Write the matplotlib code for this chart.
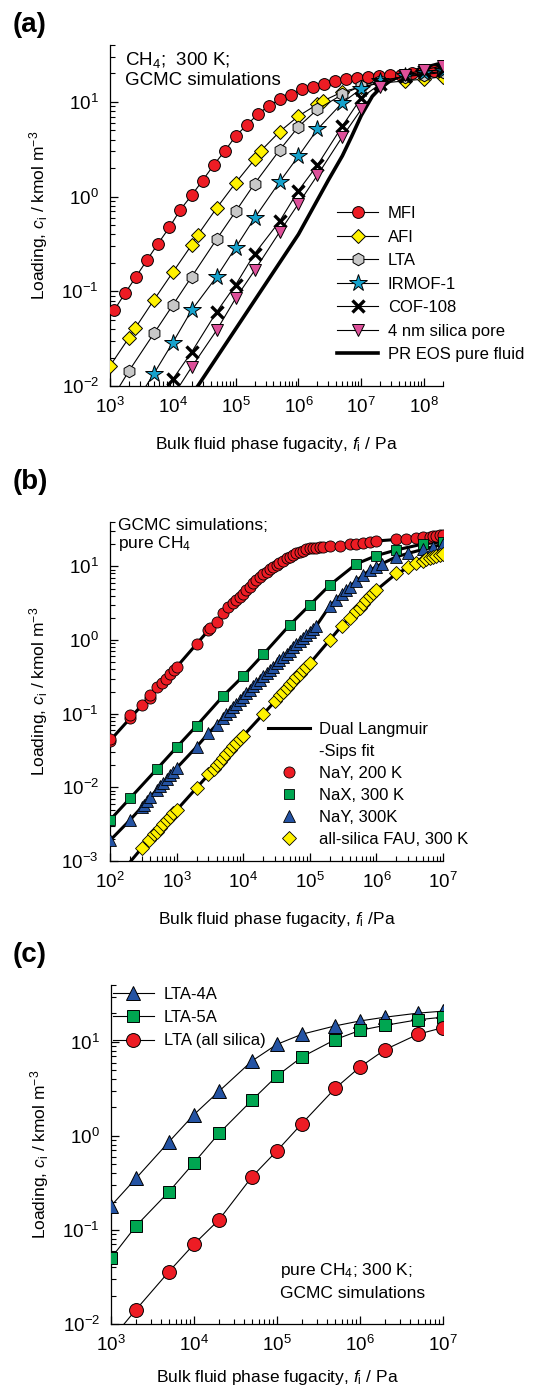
import matplotlib
matplotlib.use('Agg')
import matplotlib.pyplot as plt
from matplotlib.lines import Line2D
from matplotlib.ticker import LogLocator, NullFormatter

plt.rcParams['font.family'] = ['Liberation Sans', 'DejaVu Sans']
plt.rcParams['mathtext.fontset'] = 'custom'
plt.rcParams['mathtext.rm'] = 'Liberation Sans'
plt.rcParams['mathtext.it'] = 'Liberation Sans:italic'
plt.rcParams['mathtext.bf'] = 'Liberation Sans:bold'

# ---------------- (a) CH4, 300 K, GCMC ----------------
mfi_f = [1.16e3, 1.73e3, 2.6e3, 3.9e3, 5.8e3, 8.8e3, 1.32e4, 1.99e4, 2.97e4, 4.46e4, 6.8e4, 1.0e5,
         1.5e5, 2.24e5, 3.37e5, 5.04e5, 7.55e5, 1.13e6, 1.69e6, 2.54e6, 3.8e6, 5.7e6, 8.5e6, 1.28e7,
         1.91e7, 2.87e7, 4.3e7, 6.4e7, 9.6e7, 1.45e8, 2.0e8]
mfi_c = [0.063, 0.095, 0.143, 0.215, 0.318, 0.473, 0.73, 1.03, 1.48, 2.15, 3.07, 4.36,
         5.7, 7.4, 9.1, 10.7, 11.9, 13.6, 14.5, 15.4, 16.7, 17.4, 17.8, 18.3,
         18.9, 19.2, 19.5, 20.0, 20.5, 21.0, 21.5]
afi_f = [1e3, 2e3, 2.5e3, 5e3, 1e4, 2e4, 2.5e4, 5e4, 1e5, 2e5, 2.5e5, 5e5, 1e6, 2e6, 2.5e6,
         5e6, 1e7, 2e7, 5e7, 1e8, 2e8]
afi_c = [0.0163, 0.0323, 0.0405, 0.081, 0.159, 0.31, 0.395, 0.76, 1.40, 2.47, 3.03, 4.85, 7.1,
         9.45, 10.3, 12.8, 14.5, 15.8, 16.7, 17.5, 18.5]
lta_f = [1e3, 2e3, 5e3, 1e4, 2e4, 5e4, 1e5, 2e5, 5e5, 1e6, 2e6, 5e6, 1e7, 2e7, 5e7, 1e8, 2e8]
lta_c = [0.0068, 0.0144, 0.0359, 0.0716, 0.143, 0.356, 0.698, 1.37, 3.1, 5.48, 8.36, 12.0,
         14.8, 16.8, 18.5, 19.5, 20.5]
irmof_f = [2e3, 5e3, 1e4, 2e4, 5e4, 1e5, 2e5, 5e5, 1e6, 2e6, 5e6, 1e7, 2e7, 5e7, 1e8, 2e8]
irmof_c = [0.0052, 0.0135, 0.0288, 0.0634, 0.143, 0.290, 0.594, 1.43, 2.68, 5.13, 9.84, 13.8,
           16.5, 18.8, 20.0, 21.0]
cof_f = [5e3, 1e4, 2e4, 5e4, 1e5, 2e5, 5e5, 1e6, 2e6, 5e6, 1e7, 2e7, 5e7, 1e8, 2e8]
cof_c = [0.0058, 0.0118, 0.0229, 0.0608, 0.117, 0.249, 0.548, 1.16, 2.15, 5.57, 11.1, 15.5,
         19.0, 21.0, 22.0]
pore_f = [1e4, 2e4, 5e4, 1e5, 2e5, 5e5, 1e6, 2e6, 5e6, 1e7, 2e7, 5e7, 1e8, 2e8]
pore_c = [0.0078, 0.0159, 0.0389, 0.0843, 0.166, 0.422, 0.843, 1.68, 4.3, 8.37, 14.5, 19.5,
          22.0, 24.0]
# first point of lta/irmof/cof/pore lists is where the line leaves the axis (no marker)
pr_f = [2.5e4, 1e5, 3e5, 1e6, 3e6, 5e6, 7e6, 1e7, 1.5e7, 2e7, 3e7, 5e7, 1e8, 2e8]
pr_c = [0.01, 0.04, 0.12, 0.40, 1.5, 2.7, 4.3, 7.2, 11.5, 14.0, 17.0, 20.0, 23.0, 26.0]

# ---------------- (b) pure CH4, fits ----------------
nay200_f = [1e2, 1e2, 2e2, 2e2, 3e2, 4e2, 4e2, 5e2, 6e2, 7e2, 8e2, 9e2, 1e3, 2e3, 3e3, 3.2e3,
            4e3, 5e3, 6e3, 7.1e3, 7.9e3, 8.9e3, 1e4, 1.12e4, 1.26e4, 1.41e4, 1.58e4, 1.78e4,
            2e4, 2.24e4, 2.5e4, 2.8e4, 3.2e4, 3.5e4, 4e4, 4.5e4, 5e4, 5.6e4, 6.3e4, 7.1e4,
            7.9e4, 8.9e4, 1e5, 1.12e5, 1.26e5, 1.41e5, 1.58e5, 2e5, 2.8e5, 4e5, 5e5, 6.3e5,
            7.9e5, 1e6, 2e6, 2.8e6, 4e6, 5e6, 6.3e6, 7.1e6, 7.9e6, 8.9e6, 1e7]
nay200_c = [0.042, 0.045, 0.086, 0.095, 0.131, 0.165, 0.18, 0.232, 0.263, 0.30, 0.345, 0.39,
            0.435, 0.87, 1.35, 1.45, 1.78, 2.3, 2.8, 3.2, 3.5, 3.8, 4.2, 4.8, 5.3, 5.9, 6.6,
            7.2, 7.85, 8.5, 9.1, 9.8, 10.4, 11.2, 12.0, 12.8, 13.5, 14.3, 15.0, 15.7, 16.4,
            17.0, 17.5, 17.8, 18.0, 18.2, 18.4, 18.6, 19.0, 19.9, 20.4, 20.9, 21.4, 22.1,
            23.2, 23.5, 24.3, 24.8, 25.3, 25.7, 26.1, 26.6, 26.9]
nay200_fit_f = [1e2, 3e2, 1e3, 3e3, 1e4, 2e4, 3.2e4, 5e4, 7.9e4, 1.26e5, 2e5, 5e5, 1e6, 3e6, 1e7]
nay200_fit_c = [0.043, 0.13, 0.43, 1.35, 4.2, 7.85, 10.4, 13.5, 16.4, 18.0, 18.6, 20.4, 22.1,
                23.8, 26.9]

nax_f = [1e2, 2e2, 5e2, 1e3, 2e3, 5e3, 1e4, 2e4, 5e4, 1e5, 2e5, 5e5, 1e6, 2e6, 5e6, 1e7]
nax_c = [0.0036, 0.0071, 0.0175, 0.0349, 0.0687, 0.174, 0.324, 0.638, 1.6, 2.99, 5.58, 10.8,
         14.0, 16.7, 20.1, 21.6]

nay300_f = [1e2, 2e2, 3e2, 3.2e2, 3.6e2, 4e2, 5e2, 5.6e2, 6.3e2, 7.1e2, 7.9e2, 8.9e2, 1e3,
            2e3, 3e3, 4e3, 5e3, 5.6e3, 6.3e3, 7.1e3, 7.9e3, 8.9e3, 1e4, 1.12e4, 1.26e4,
            1.41e4, 1.58e4, 1.78e4, 2e4, 2.24e4, 2.5e4, 2.8e4, 3.2e4, 3.5e4, 4e4, 4.5e4, 5e4,
            5.6e4, 6.3e4, 7.1e4, 7.9e4, 8.9e4, 1e5, 1.12e5, 1.26e5, 2e5, 2.5e5, 3e5, 3.5e5,
            4e5, 5e5, 6.3e5, 7.9e5, 1e6, 1.2e6, 2e6, 3e6, 5e6, 7e6, 1e7]
nay300_c = [0.0019, 0.0036, 0.0054, 0.0057, 0.0066, 0.0073, 0.0092, 0.0103, 0.0115, 0.0129,
            0.0145, 0.0162, 0.0182, 0.0355, 0.054, 0.071, 0.088, 0.099, 0.11, 0.123, 0.137,
            0.153, 0.17, 0.19, 0.21, 0.235, 0.26, 0.29, 0.32, 0.355, 0.39, 0.43, 0.48, 0.53,
            0.59, 0.65, 0.72, 0.80, 0.88, 0.97, 1.07, 1.18, 1.3, 1.43, 1.57, 2.9, 3.5, 4.2,
            4.8, 5.3, 6.3, 7.6, 8.8, 9.9, 10.8, 13.5, 15.0, 17.0, 18.5, 19.8]

fau_f = [3e2, 3.8e2, 4.5e2, 5e2, 5.6e2, 6.3e2, 7.1e2, 7.9e2, 8.9e2, 1e3, 2e3, 3e3, 3.6e3, 4e3,
         4.5e3, 5e3, 5.6e3, 6.3e3, 7.1e3, 7.9e3, 8.9e3, 1e4, 2e4, 3e4, 3.6e4, 4e4, 4.5e4, 5e4,
         5.6e4, 6.3e4, 7.1e4, 7.9e4, 8.9e4, 1e5, 2e5, 3e5, 4e5, 5e5, 5.6e5, 6.3e5, 7.1e5,
         7.9e5, 8.9e5, 1e6, 2e6, 3e6, 4e6, 5e6, 5.6e6, 6.3e6, 7.1e6, 7.9e6, 8.9e6, 1e7]
fau_c = [0.0015, 0.0019, 0.0023, 0.0025, 0.0028, 0.0032, 0.0036, 0.0040, 0.0045, 0.0049,
         0.0097, 0.0150, 0.018, 0.020, 0.022, 0.025, 0.028, 0.032, 0.036, 0.040, 0.045, 0.050,
         0.100, 0.150, 0.18, 0.20, 0.225, 0.25, 0.28, 0.31, 0.35, 0.39, 0.43, 0.48, 1.0, 1.55,
         1.97, 2.45, 2.75, 3.1, 3.5, 3.9, 4.3, 4.77, 8.0, 9.9, 11.0, 11.8, 12.4, 12.9, 13.4,
         13.9, 14.4, 14.9]
fau_fit_f = [2e2, 3e2, 1e3, 1e4, 1e5, 3e5, 1e6, 2e6, 5e6, 1e7]
fau_fit_c = [0.00097, 0.0015, 0.0049, 0.050, 0.48, 1.55, 4.77, 8.0, 11.8, 14.9]

# ---------------- (c) LTA variants ----------------
c_f = [1e3, 2e3, 5e3, 1e4, 2e4, 5e4, 1e5, 2e5, 5e5, 1e6, 2e6, 5e6, 1e7]
lta4a_c = [0.18, 0.353, 0.864, 1.68, 2.97, 6.24, 9.37, 12.0, 14.7, 16.6, 18.2, 20.1, 21.1]
lta5a_c = [0.05, 0.11, 0.255, 0.517, 1.06, 2.39, 4.33, 6.88, 10.5, 13.2, 14.9, 17.1, 18.2]
ltasi_c = [0.0068, 0.0142, 0.0361, 0.0705, 0.128, 0.367, 0.693, 1.35, 3.18, 5.38, 8.22, 12.0, 14.1]

RED = '#ED1C24'
YELLOW = '#FFF200'
GRAY = '#C8C8C8'
CYAN = '#16A2CC'
PINK = '#DE509A'
GREEN = '#00A651'
BLUE = '#2453A3'

TICK_FS = 13.5
LAB_FS = 12.5
LEG_FS = 12


def style_axis(ax, xlim, ylim):
    ax.set_xscale('log')
    ax.set_yscale('log')
    ax.set_xlim(*xlim)
    ax.set_ylim(*ylim)
    for axis in (ax.xaxis, ax.yaxis):
        axis.set_major_locator(LogLocator(base=10, numticks=30))
        axis.set_minor_locator(LogLocator(base=10, subs=range(2, 10), numticks=30))
        axis.set_minor_formatter(NullFormatter())
    ax.spines['top'].set_visible(False)
    ax.spines['right'].set_visible(False)
    for s in ['left', 'bottom']:
        ax.spines[s].set_linewidth(0.9)
    ax.tick_params(which='major', direction='in', length=6, width=0.9, labelsize=TICK_FS, pad=8)
    ax.tick_params(which='minor', direction='in', length=3.8, width=0.8)
    ax.tick_params(top=False, right=False, which='both')
    ax.set_ylabel(r'Loading, $c_\mathrm{i}$ / kmol m$^{-3}$', fontsize=LAB_FS)
    ax.yaxis.set_label_coords(-0.18, 0.5)


fig = plt.figure(figsize=(5.37, 13.91), dpi=100)

# ======== (a) ========
ax = fig.add_axes([110 / 537, 1 - 386 / 1391, 333 / 537, 341 / 1391])
style_axis(ax, (1e3, 2e8), (1e-2, 40))
lw = 0.8
ax.plot(pr_f, pr_c, color='k', lw=2.6, zorder=2)
ax.plot(mfi_f, mfi_c, '-o', color='k', lw=lw, mfc=RED, mec='k', mew=0.7, ms=8.5, zorder=3)
ax.plot(afi_f, afi_c, '-D', color='k', lw=lw, mfc=YELLOW, mec='k', mew=0.7, ms=7.5, zorder=3)
ax.plot(lta_f, lta_c, '-', color='k', lw=lw, zorder=3)
ax.plot(lta_f[1:], lta_c[1:], 'h', mfc=GRAY, mec='k', mew=0.7, ms=9, zorder=3)
ax.plot(irmof_f, irmof_c, '-', color='k', lw=lw, zorder=3)
ax.plot(irmof_f[1:], irmof_c[1:], '*', mfc=CYAN, mec='k', mew=0.7, ms=13, zorder=3)
ax.plot(cof_f, cof_c, '-', color='k', lw=lw, zorder=3)
ax.plot(cof_f[1:], cof_c[1:], 'x', mec='k', mew=2.4, ms=8, zorder=3)
ax.plot(pore_f, pore_c, '-', color='k', lw=lw, zorder=3)
ax.plot(pore_f[1:], pore_c[1:], 'v', mfc=PINK, mec='k', mew=0.7, ms=9, zorder=3)

handles_a = [
    Line2D([], [], color='k', lw=lw, marker='o', mfc=RED, mec='k', mew=0.7, ms=8.5),
    Line2D([], [], color='k', lw=lw, marker='D', mfc=YELLOW, mec='k', mew=0.7, ms=7.5),
    Line2D([], [], color='k', lw=lw, marker='h', mfc=GRAY, mec='k', mew=0.7, ms=9),
    Line2D([], [], color='k', lw=lw, marker='*', mfc=CYAN, mec='k', mew=0.7, ms=13),
    Line2D([], [], color='k', lw=lw, marker='x', mec='k', mew=2.4, ms=8),
    Line2D([], [], color='k', lw=lw, marker='v', mfc=PINK, mec='k', mew=0.7, ms=9),
    Line2D([], [], color='k', lw=2.6),
]
labels_a = ['MFI', 'AFI', 'LTA', 'IRMOF-1', 'COF-108', '4 nm silica pore', 'PR EOS pure fluid']
ax.legend(handles_a, labels_a, loc='upper left', bbox_to_anchor=(0.682, 0.527), frameon=False,
          fontsize=LEG_FS, borderpad=0, borderaxespad=0, handlelength=2.45, handletextpad=0.6,
          labelspacing=0.51)
ax.text(0.045, 0.985, 'CH$_4$;  300 K;\nGCMC simulations', transform=ax.transAxes,
        ha='left', va='top', fontsize=13.5, linespacing=1.15)
ax.set_xlabel(r'Bulk fluid phase fugacity, $f_\mathrm{i}$ / Pa', fontsize=LAB_FS)
ax.xaxis.set_label_coords(0.5, -0.145)
fig.text(13 / 537, 1 - 12 / 1391, '(a)', fontsize=20, fontweight='bold', va='top', ha='left')

# ======== (b) ========
ax = fig.add_axes([110 / 537, 1 - 861 / 1391, 333 / 537, 339 / 1391])
style_axis(ax, (1e2, 1e7), (1e-3, 40))
flw = 2.2
ax.plot(nay200_fit_f, nay200_fit_c, color='k', lw=flw, zorder=2)
ax.plot(nax_f, nax_c, color='k', lw=flw, zorder=2)
ax.plot(nay300_f, nay300_c, color='k', lw=flw, zorder=2)
ax.plot(fau_fit_f, fau_fit_c, color='k', lw=flw, zorder=2)
ax.plot(nay200_f, nay200_c, 'o', mfc=RED, mec='k', mew=0.6, ms=8, zorder=3)
ax.plot(nax_f, nax_c, 's', mfc=GREEN, mec='k', mew=0.6, ms=7.5, zorder=3)
ax.plot(nay300_f, nay300_c, '^', mfc=BLUE, mec='k', mew=0.6, ms=8, zorder=3)
ax.plot(fau_f, fau_c, 'D', mfc=YELLOW, mec='k', mew=0.6, ms=7, zorder=3)

handles_b = [
    Line2D([], [], color='k', lw=flw),
    Line2D([], [], color='none'),
    Line2D([], [], ls='none', marker='o', mfc=RED, mec='k', mew=0.6, ms=8),
    Line2D([], [], ls='none', marker='s', mfc=GREEN, mec='k', mew=0.6, ms=7.5),
    Line2D([], [], ls='none', marker='^', mfc=BLUE, mec='k', mew=0.6, ms=8),
    Line2D([], [], ls='none', marker='D', mfc=YELLOW, mec='k', mew=0.6, ms=7),
]
labels_b = ['Dual Langmuir', '-Sips fit', 'NaY, 200 K', 'NaX, 300 K', 'NaY, 300K',
            'all-silica FAU, 300 K']
ax.legend(handles_b, labels_b, loc='upper left', bbox_to_anchor=(0.474, 0.41), frameon=False,
          fontsize=LEG_FS, borderpad=0, borderaxespad=0, handlelength=2.5, handletextpad=0.55,
          labelspacing=0.42)
ax.text(0.024, 1.012, 'GCMC simulations;\npure CH$_4$', transform=ax.transAxes,
        ha='left', va='top', fontsize=12.5, linespacing=1.1)
ax.set_xlabel(r'Bulk fluid phase fugacity, $f_\mathrm{i}$ /Pa', fontsize=LAB_FS)
ax.xaxis.set_label_coords(0.5, -0.145)
fig.text(13 / 537, 1 - 469 / 1391, '(b)', fontsize=20, fontweight='bold', va='top', ha='left')

# ======== (c) ========
ax = fig.add_axes([111 / 537, 1 - 1324 / 1391, 332 / 537, 339 / 1391])
style_axis(ax, (1e3, 1e7), (1e-2, 40))
ax.plot(c_f, lta4a_c, '-^', color='k', lw=lw, mfc=BLUE, mec='k', mew=0.7, ms=10, zorder=3)
ax.plot(c_f, lta5a_c, '-s', color='k', lw=lw, mfc=GREEN, mec='k', mew=0.7, ms=9, zorder=3)
ax.plot(c_f, ltasi_c, '-', color='k', lw=lw, zorder=3)
ax.plot(c_f[1:], ltasi_c[1:], 'o', mfc=RED, mec='k', mew=0.7, ms=10, zorder=3)

handles_c = [
    Line2D([], [], color='k', lw=lw, marker='^', mfc=BLUE, mec='k', mew=0.7, ms=10),
    Line2D([], [], color='k', lw=lw, marker='s', mfc=GREEN, mec='k', mew=0.7, ms=9),
    Line2D([], [], color='k', lw=lw, marker='o', mfc=RED, mec='k', mew=0.7, ms=10),
]
ax.legend(handles_c, ['LTA-4A', 'LTA-5A', 'LTA (all silica)'], loc='upper left',
          bbox_to_anchor=(0.006, 0.995), frameon=False, fontsize=LEG_FS, borderpad=0,
          borderaxespad=0, handlelength=2.45, handletextpad=0.6, labelspacing=0.5)
ax.text(0.509, 0.185, 'pure CH$_4$; 300 K;\nGCMC simulations', transform=ax.transAxes,
        ha='left', va='top', fontsize=12.5, linespacing=1.45)
ax.set_xlabel(r'Bulk fluid phase fugacity, $f_\mathrm{i}$ / Pa', fontsize=LAB_FS)
ax.xaxis.set_label_coords(0.5, -0.13)
fig.text(13 / 537, 1 - 942 / 1391, '(c)', fontsize=20, fontweight='bold', va='top', ha='left')

fig.savefig('out.png', dpi=100)
plt.close(fig)
